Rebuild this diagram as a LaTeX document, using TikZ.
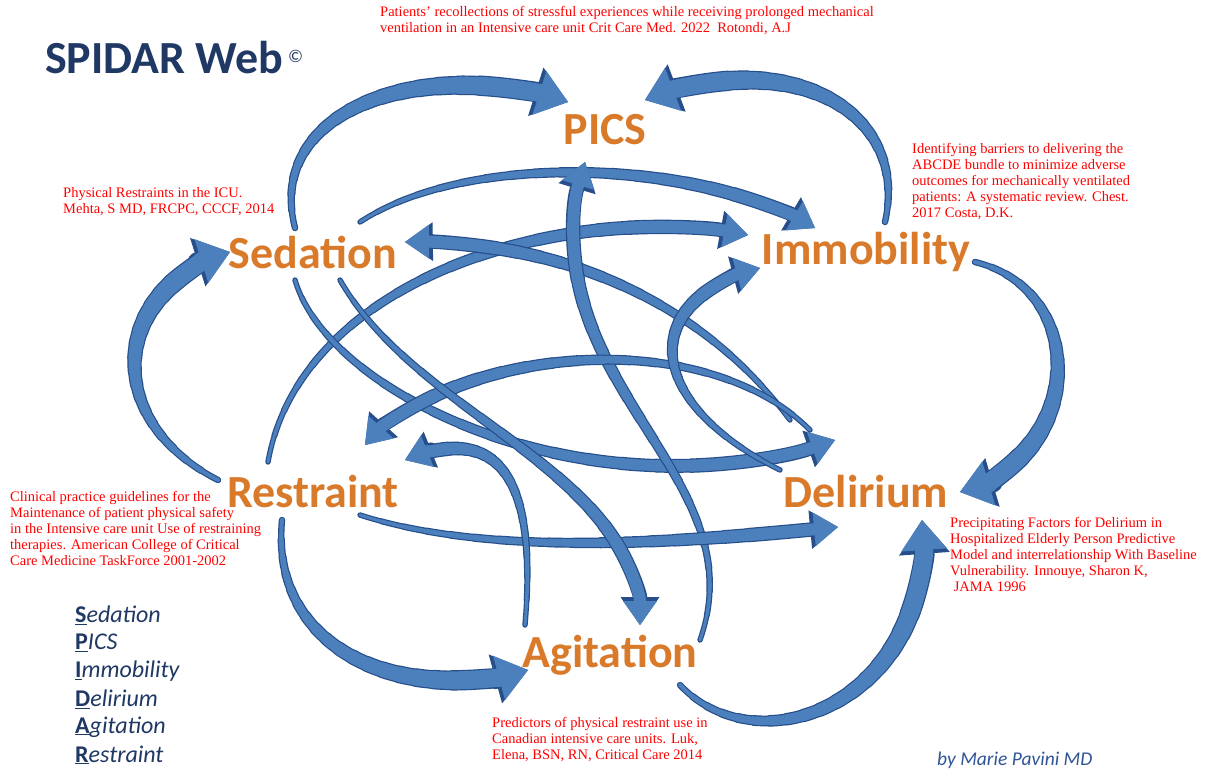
\documentclass[tikz,border=0pt]{standalone}
\usepackage{fontspec}
\setmainfont{Liberation Serif}
\newfontfamily\carlito{Carlito}
\usetikzlibrary{arrows.meta,calc}
\definecolor{arrowblue}{RGB}{76,128,189}
\definecolor{arrowdark}{RGB}{38,78,138}
\definecolor{navy}{RGB}{31,56,100}
\definecolor{orangelbl}{RGB}{216,122,42}
\definecolor{refred}{RGB}{255,0,0}
\definecolor{byline}{RGB}{47,84,150}
\pgfdeclarelayer{bg}
\pgfsetlayers{bg,main}
% one pass of a tapered curved block arrow along the Bezier tA-tB-tC-tD
\newcommand\tarrowpass[6]{% colour, extra, w0, w1, head width, head length
  \begin{pgfscope}
  \pgfsetstrokecolor{#1}\pgfsetfillcolor{#1}\pgfsetroundcap\pgfsetroundjoin
  \foreach \i in {0,...,15} {%
    \pgfmathsetmacro\ta{\i*0.05}\pgfmathsetmacro\tb{(\i+1)*0.05}%
    \pgfmathsetmacro\lw{#3+(#4-#3)*\i/16+#2}%
    \pgfsetlinewidth{\lw pt}%
    \pgfpathcurvebetweentime{\ta}{\tb}{\pgfpointanchor{tA}{center}}{\pgfpointanchor{tB}{center}}{\pgfpointanchor{tC}{center}}{\pgfpointanchor{tD}{center}}%
    \pgfusepath{stroke}}%
  \pgfmathsetmacro\lw{#4+#2}%
  \pgfsetlinewidth{\lw pt}%
  \pgfmathsetmacro\hw{#5+2*#2}\pgfmathsetmacro\hl{#6+1.6*#2}%
  \edef\tmparrow{Triangle[width=\hw pt,length=\hl pt,line width=0pt]}%
  \expandafter\pgfsetarrowsend\expandafter{\tmparrow}%
  \pgfpathcurvebetweentime{0.8}{1}{\pgfpointanchor{tA}{center}}{\pgfpointanchor{tB}{center}}{\pgfpointanchor{tC}{center}}{\pgfpointanchor{tD}{center}}%
  \pgfusepath{stroke}%
  \end{pgfscope}}
\newcommand\tarrow[8]{% start, c1, c2, end, w0, w1, head width, head length
  \path (#1) coordinate (tA) (#2) coordinate (tB) (#3) coordinate (tC) (#4) coordinate (tD);
  \tarrowpass{arrowdark}{2.4}{#5}{#6}{#7}{#8}%
  \tarrowpass{arrowblue}{0}{#5}{#6}{#7}{#8}}
\newcommand\outerarrow[4]{\tarrow{#1}{#2}{#3}{#4}{4}{18}{46}{30}}
\newcommand\innerarrow[4]{\tarrow{#1}{#2}{#3}{#4}{3}{12}{34}{24}}
\begin{document}
\begin{tikzpicture}[x=1pt,y=-1pt,
  lbl/.style={font=\carlito\bfseries\fontsize{46}{46}\selectfont, text=orangelbl, inner sep=0pt},
  ref/.style={font=\fontsize{14.5}{16}\selectfont, text=refred, align=left, inner sep=0pt, anchor=north west},
  legend/.style={font=\carlito\itshape\fontsize{24}{24}\selectfont, text=navy, anchor=west, inner sep=0pt}]
\useasboundingbox (0,0) rectangle (1209,772);

% title
\node[font=\carlito\bfseries\fontsize{46}{46}\selectfont, text=navy, anchor=west, inner sep=0pt] (title) at (45,58) {SPIDAR Web};
\node[font=\carlito\fontsize{18}{18}\selectfont, text=navy, anchor=west, inner sep=0pt] (copy) at (288,56) {©};

% main labels
\node[lbl] (pics) at (605,130) {PICS};
\node[lbl] (sed) at (313,252) {Sedation};
\node[lbl] (imm) at (866,252) {Immobility};
\node[lbl] (res) at (313,492) {Restraint};
\node[lbl] (del) at (866,492) {Delirium};
\node[lbl] (agi) at (610,655) {Agitation};

\begin{pgfonlayer}{bg}
\fill[white] (0,0) rectangle (1209,772);
% outer arcs
\outerarrow{$(sed)+(-18,-24)$}{265,110}{420,55}{$(pics)+(-37,-28)$}
\outerarrow{$(imm)+(19,-30)$}{910,110}{790,45}{$(pics)+(40,-30)$}
\outerarrow{$(imm)+(109,10)$}{1090,290}{1085,455}{$(del)+(94,0)$}
\outerarrow{$(agi)+(70,30)$}{760,770}{935,700}{$(del)+(56,28)$}
\outerarrow{$(res)+(-31,28)$}{270,650}{400,705}{$(agi)+(-82,15)$}
\outerarrow{$(res)+(-95,-12)$}{100,420}{110,290}{$(sed)+(-83,0)$}
% inner arrows
\innerarrow{$(sed)+(47,-30)$}{470,150}{700,160}{$(imm)+(-51,-24)$}
\innerarrow{$(res)+(-45,-30)$}{300,280}{560,200}{$(imm)+(-118,-17)$}
\innerarrow{$(del)+(-76,-72)$}{700,300}{560,240}{$(sed)+(92,-10)$}
\innerarrow{$(sed)+(-18,28)$}{330,400}{600,520}{$(del)+(-31,-52)$}
\innerarrow{$(agi)+(90,-15)$}{760,470}{520,380}{$(pics)+(-20,32)$}
\innerarrow{$(del)+(-56,-62)$}{700,320}{450,350}{$(res)+(52,-47)$}
\innerarrow{$(del)+(-86,-22)$}{640,400}{640,300}{$(imm)+(-106,16)$}
\innerarrow{$(res)+(47,23)$}{500,560}{700,540}{$(del)+(-28,35)$}
\innerarrow{$(sed)+(27,28)$}{420,420}{640,470}{$(agi)+(30,-30)$}
\innerarrow{$(agi)+(-85,-30)$}{540,450}{480,430}{$(res)+(92,-32)$}
\end{pgfonlayer}

% references
\node[ref] (r1) at (380,6) {Patients’ recollections of stressful experiences while receiving prolonged mechanical\\ventilation in an Intensive care unit Crit Care Med. 2022\ \ Rotondi, A.J};
\node[ref] (r2) at (63,187) {Physical Restraints in the ICU.\\Mehta, S MD, FRCPC, CCCF, 2014};
\node[ref] (r3) at (912,143) {Identifying barriers to delivering the\\ABCDE bundle to minimize adverse\\outcomes for mechanically ventilated\\patients: A systematic review. Chest.\\2017 Costa, D.K.};
\node[ref] (r4) at (10,491) {Clinical practice guidelines for the\\Maintenance of patient physical safety\\in the Intensive care unit Use of restraining\\therapies. American College of Critical\\Care Medicine TaskForce 2001-2002};
\node[ref] (r5) at (950,517) {Precipitating Factors for Delirium in\\Hospitalized Elderly Person Predictive\\Model and interrelationship With Baseline\\Vulnerability. Innouye, Sharon K,\\\ JAMA 1996};
\node[ref] (r6) at (492,717) {Predictors of physical restraint use in\\Canadian intensive care units. Luk,\\Elena, BSN, RN, Critical Care 2014};

% legend
\node[legend] (l1) at (75,615) {\underline{\upshape\bfseries S}edation};
\node[legend] (l2) at (75,643) {\underline{\upshape\bfseries P}ICS};
\node[legend] (l3) at (75,671) {\underline{\upshape\bfseries I}mmobility};
\node[legend] (l4) at (75,699) {\underline{\upshape\bfseries D}elirium};
\node[legend] (l5) at (75,727) {\underline{\upshape\bfseries A}gitation};
\node[legend] (l6) at (75,755) {\underline{\upshape\bfseries R}estraint};

\node[font=\carlito\itshape\fontsize{19.5}{19.5}\selectfont, text=byline, anchor=west, inner sep=0pt] (by) at (937,760) {by Marie Pavini MD};
\end{tikzpicture}
\end{document}
